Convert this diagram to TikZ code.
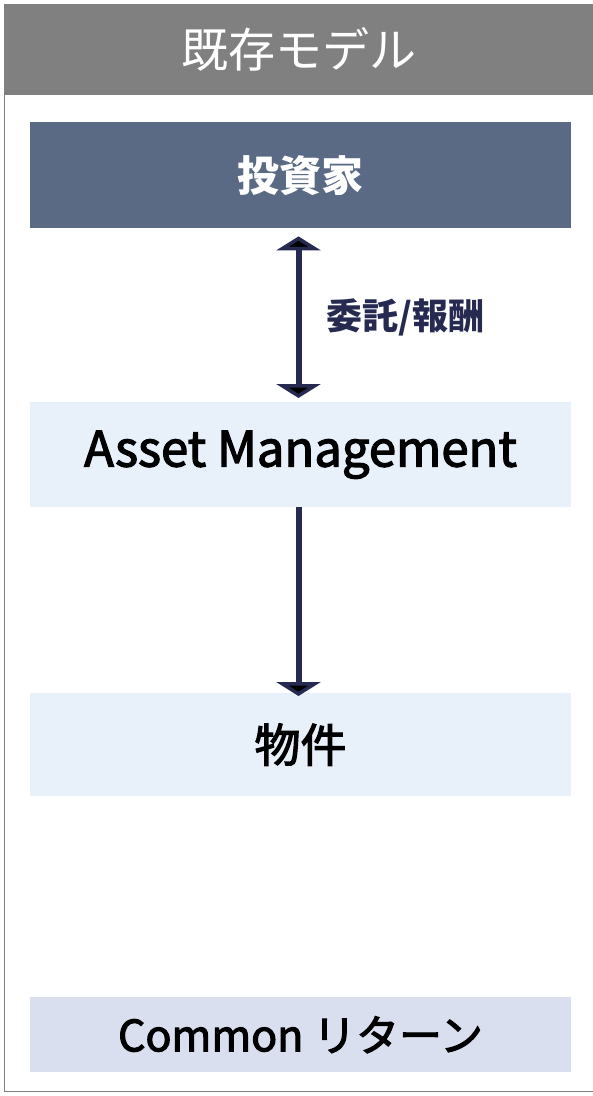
\documentclass[tikz,border=0pt]{standalone}
\usepackage{fontspec}
\setmainfont{Noto Sans CJK JP}
\newfontfamily\medfont{Noto Sans CJK JP}[FakeBold=2.5]
\usetikzlibrary{arrows.meta}
\definecolor{hdr}{HTML}{808080}
\definecolor{inv}{HTML}{5A6A85}
\definecolor{light}{HTML}{E8F0FA}
\definecolor{ret}{HTML}{D9DFEE}
\definecolor{navy}{HTML}{262A50}
\tikzset{
  box/.style={minimum width=541pt, anchor=north, inner sep=0pt},
  conn/.style={draw=navy, line width=6pt, -{Triangle[width=44pt,length=14pt,fill=black]}},
}
\begin{document}
\begin{tikzpicture}[x=1pt,y=-1pt]
\useasboundingbox (0,0) rectangle (593,1096);
\fill[white] (0,0) rectangle (593,1096);
\draw[hdr, line width=1.5pt] (4.5,4.5) rectangle (594,1091.5);
\node[fill=hdr, minimum width=589pt, minimum height=90pt, anchor=north west, inner sep=0pt, text=white, font=\fontsize{47}{52}\selectfont] (title) at (4.5,4.5) {既存モデル};
\node[box, fill=inv, minimum height=106pt, text=white, font=\fontsize{42}{48}\selectfont\bfseries] (inv) at (300.5,122) {投資家};
\node[box, fill=light, minimum height=105pt, font=\fontsize{49}{54}\medfont] (am) at (300.5,402) {Asset Management};
\node[box, fill=light, minimum height=103pt, font=\fontsize{46}{52}\medfont] (prop) at (300.5,693) {物件};
\node[box, fill=ret, minimum height=75pt, font=\fontsize{43}{48}\medfont] (cr) at (300.5,997) {Common リターン};
\draw[conn, {Triangle[width=44pt,length=14pt,fill=black]}-{Triangle[width=44pt,length=14pt,fill=black]}] ([xshift=-2pt,yshift=-8pt]inv.south) -- node[right=22pt, text=navy, font=\fontsize{36}{40}\selectfont\bfseries] (lab) {委託/報酬} ([xshift=-2pt,yshift=4pt]am.north);
\draw[conn] ([xshift=-2pt]am.south) -- ([xshift=-2pt,yshift=-3pt]prop.north);
\end{tikzpicture}
\end{document}
